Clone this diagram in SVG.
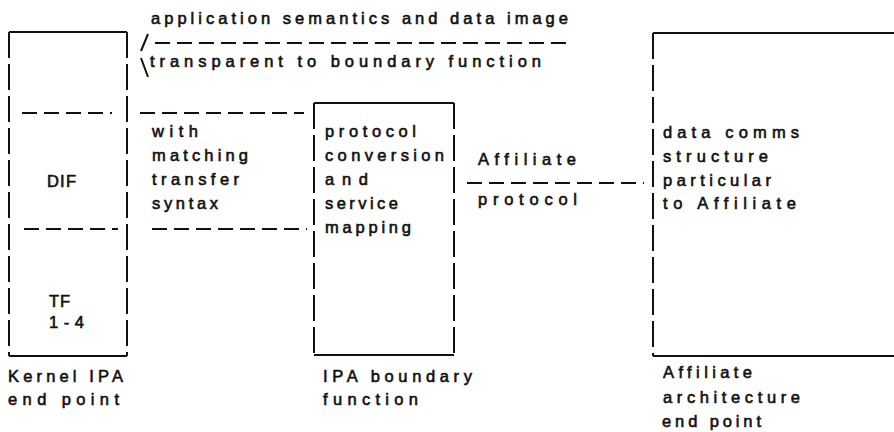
<svg xmlns="http://www.w3.org/2000/svg" width="894" height="432" viewBox="0 0 894 432">
<style>
.t{font-family:"Liberation Sans",Arial,sans-serif;font-size:16.5px;fill:#111;stroke:#111;stroke-width:0.6px;}
.solid{stroke:#111;stroke-width:2;fill:none;}
.side{stroke:#111;stroke-width:2;fill:none;stroke-dasharray:26 6;}
.dash{stroke:#111;stroke-width:2;fill:none;stroke-dasharray:15 7;}
</style>
<rect width="894" height="432" fill="#fff"/>
<g id="kernel-ipa-end-point">
<path class="solid" d="M9 32H127M9 356H127"/>
<path class="side" d="M9 32V356M127 32V356"/>
<path class="dash" d="M22 113H112M24 229H118"/>
<text class="t" x="47" y="187" textLength="29" lengthAdjust="spacing">DIF</text>
<text class="t" x="49" y="307" textLength="21" lengthAdjust="spacing">TF</text>
<text class="t" x="49" y="328" textLength="35" lengthAdjust="spacing">1-4</text>
<text class="t" x="8" y="382" textLength="115" lengthAdjust="spacing">Kernel IPA</text>
<text class="t" x="8" y="405" textLength="111" lengthAdjust="spacing">end point</text>
</g>
<g id="ipa-boundary-function">
<path class="solid" d="M314 103H454M314 355H454"/>
<path class="side" d="M314 103V355M454 103V355"/>
<text class="t" x="325" y="137" textLength="91" lengthAdjust="spacing">protocol</text>
<text class="t" x="325" y="161" textLength="119" lengthAdjust="spacing">conversion</text>
<text class="t" x="325" y="185" textLength="43" lengthAdjust="spacing">and</text>
<text class="t" x="325" y="209" textLength="73" lengthAdjust="spacing">service</text>
<text class="t" x="325" y="233" textLength="86" lengthAdjust="spacing">mapping</text>
<text class="t" x="323" y="382" textLength="149" lengthAdjust="spacing">IPA boundary</text>
<text class="t" x="323" y="405" textLength="95" lengthAdjust="spacing">function</text>
</g>
<g id="affiliate-architecture-end-point">
<path class="solid" d="M653 33H900M653 356H900"/>
<path class="side" d="M653 33V356"/>
<text class="t" x="663" y="138" textLength="136" lengthAdjust="spacing">data comms</text>
<text class="t" x="663" y="162" textLength="105" lengthAdjust="spacing">structure</text>
<text class="t" x="663" y="186" textLength="108" lengthAdjust="spacing">particular</text>
<text class="t" x="663" y="209" textLength="133" lengthAdjust="spacing">to Affiliate</text>
<text class="t" x="663" y="378" textLength="89" lengthAdjust="spacing">Affiliate</text>
<text class="t" x="663" y="403" textLength="137" lengthAdjust="spacing">architecture</text>
<text class="t" x="662" y="427" textLength="99" lengthAdjust="spacing">end point</text>
</g>
<g id="connectors">
<path class="dash" d="M155 43H567"/>
<path class="solid" d="M148 34L141 51M141 58L148 77"/>
<path class="dash" d="M140 113H304"/>
<path class="dash" d="M152 229H307"/>
<path class="dash" d="M467 183H644"/>
</g>
<g id="labels">
<text class="t" x="151" y="24" textLength="417" lengthAdjust="spacing">application semantics and data image</text>
<text class="t" x="150" y="67" textLength="391" lengthAdjust="spacing">transparent to boundary function</text>
<text class="t" x="152" y="137" textLength="46" lengthAdjust="spacing">with</text>
<text class="t" x="152" y="161" textLength="96" lengthAdjust="spacing">matching</text>
<text class="t" x="152" y="185" textLength="87" lengthAdjust="spacing">transfer</text>
<text class="t" x="152" y="209" textLength="66" lengthAdjust="spacing">syntax</text>
<text class="t" x="478" y="165" textLength="98" lengthAdjust="spacing">Affiliate</text>
<text class="t" x="478" y="205" textLength="99" lengthAdjust="spacing">protocol</text>
</g>
</svg>
